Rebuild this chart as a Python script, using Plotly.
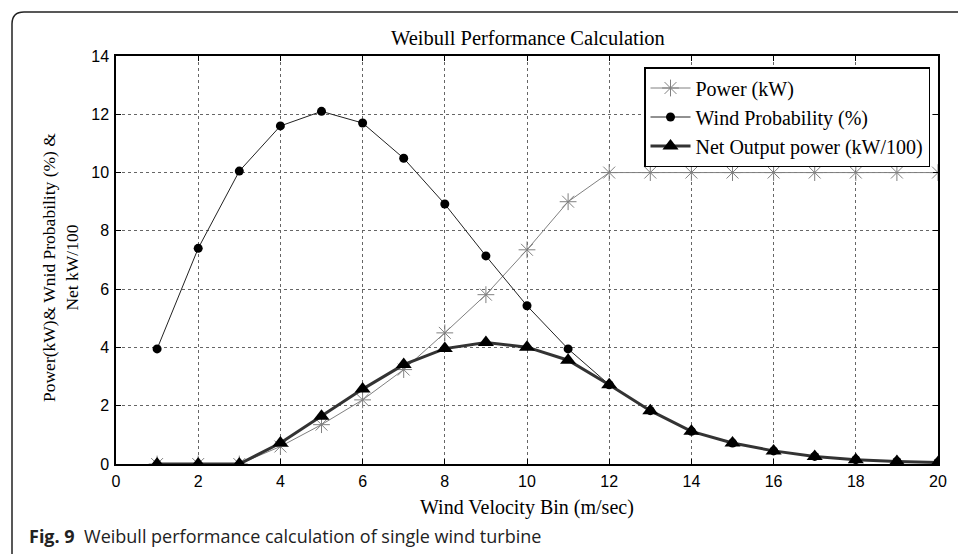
import plotly.graph_objects as go

wind_bin = list(range(1, 21))
power_kw = [0, 0, 0, 0.6, 1.35, 2.2, 3.24, 4.5, 5.81, 7.35, 9.0, 10, 10, 10, 10, 10, 10, 10, 10, 10]
wind_prob = [3.95, 7.4, 10.05, 11.6, 12.1, 11.7, 10.49, 8.92, 7.14, 5.43, 3.95, 2.72, 1.83, 1.12, 0.72, 0.45, 0.26, 0.15, 0.09, 0.05]
net_output = [0, 0, 0, 0.72, 1.64, 2.57, 3.41, 3.96, 4.17, 4.01, 3.56, 2.72, 1.83, 1.12, 0.72, 0.45, 0.26, 0.15, 0.09, 0.05]

x_ticks = list(range(0, 21, 2))
y_ticks = list(range(0, 15, 2))

W, H = 958, 554
L, R, T, B = 116, 20, 56, 90
pw, ph = W - L - R, H - T - B

def px(x):
    return (x - L) / pw

def py(y):
    return (H - B - y) / ph

times = "Liberation Serif, Times New Roman, serif"
arial = "Liberation Sans, Arial, sans-serif"

fig = go.Figure()
fig.add_trace(go.Scatter(
    x=wind_bin, y=power_kw, name="Power (kW)", mode="lines+markers",
    line=dict(color="#808080", width=1),
    marker=dict(symbol="asterisk-open", size=14, color="#808080", line=dict(width=1, color="#808080")),
))
fig.add_trace(go.Scatter(
    x=wind_bin, y=wind_prob, name="Wind Probability (%)", mode="lines+markers",
    line=dict(color="#222", width=1),
    marker=dict(symbol="circle", size=9, color="black"),
))
fig.add_trace(go.Scatter(
    x=wind_bin, y=net_output, name="Net Output power (kW/100)", mode="lines+markers",
    line=dict(color="#333", width=3),
    marker=dict(symbol="triangle-up", size=14, color="black"),
))

axis_common = dict(
    showline=True, linecolor="black", linewidth=1.5, mirror="ticks",
    ticks="inside", ticklen=5, tickcolor="black",
    showgrid=True, gridcolor="#666", griddash="dot", gridwidth=1,
    zeroline=False,
    tickfont=dict(family=arial, size=16, color="black"),
)

fig.update_xaxes(range=[0, 20], tickvals=x_ticks, ticklabelstandoff=2, **axis_common)
fig.update_yaxes(range=[0, 14], tickvals=y_ticks, ticklabelstandoff=2, **axis_common)

fig.update_layout(
    width=W, height=H,
    margin=dict(l=L, r=R, t=T, b=B),
    paper_bgcolor="white", plot_bgcolor="white",
    showlegend=True,
    legend=dict(
        x=px(930), y=py(67), xanchor="right", yanchor="top",
        bgcolor="white", bordercolor="black", borderwidth=1.5,
        font=dict(family=times, size=20, color="black"),
        tracegroupgap=0, itemwidth=40,
    ),
    annotations=[
        dict(text="Weibull Performance Calculation", x=px(528), y=py(38), xref="paper", yref="paper",
             xanchor="center", yanchor="middle",
             showarrow=False, font=dict(family=times, size=20.5, color="black")),
        dict(text="Wind Velocity Bin (m/sec)", x=px(527), y=py(507), xref="paper", yref="paper",
             xanchor="center", yanchor="middle",
             showarrow=False, font=dict(family=times, size=20, color="black")),
        dict(text="Power(kW)& Wnid Probability (%) &<br>Net kW/100", x=px(60), y=py(268),
             xref="paper", yref="paper", xanchor="center", yanchor="middle",
             showarrow=False, textangle=-90,
             font=dict(family=times, size=17.5, color="black")),
        dict(text="<b>Fig. 9</b>  Weibull performance calculation of single wind turbine",
             x=px(27), y=py(536), xref="paper", yref="paper", xanchor="left", yanchor="middle",
             showarrow=False,
             font=dict(family="Open Sans, Noto Sans, sans-serif", size=18, color="#222")),
    ],
    shapes=[
        dict(type="path", xref="paper", yref="paper",
             path=f"M {px(12)},{py(560)} L {px(12)},{py(24)} Q {px(12)},{py(12)} {px(24)},{py(12)} L {px(970)},{py(12)}",
             line=dict(color="#222", width=1.5)),
    ],
)

fig.write_html("out.html", config={"displayModeBar": False},
               post_script="document.body.style.margin='0px';")
